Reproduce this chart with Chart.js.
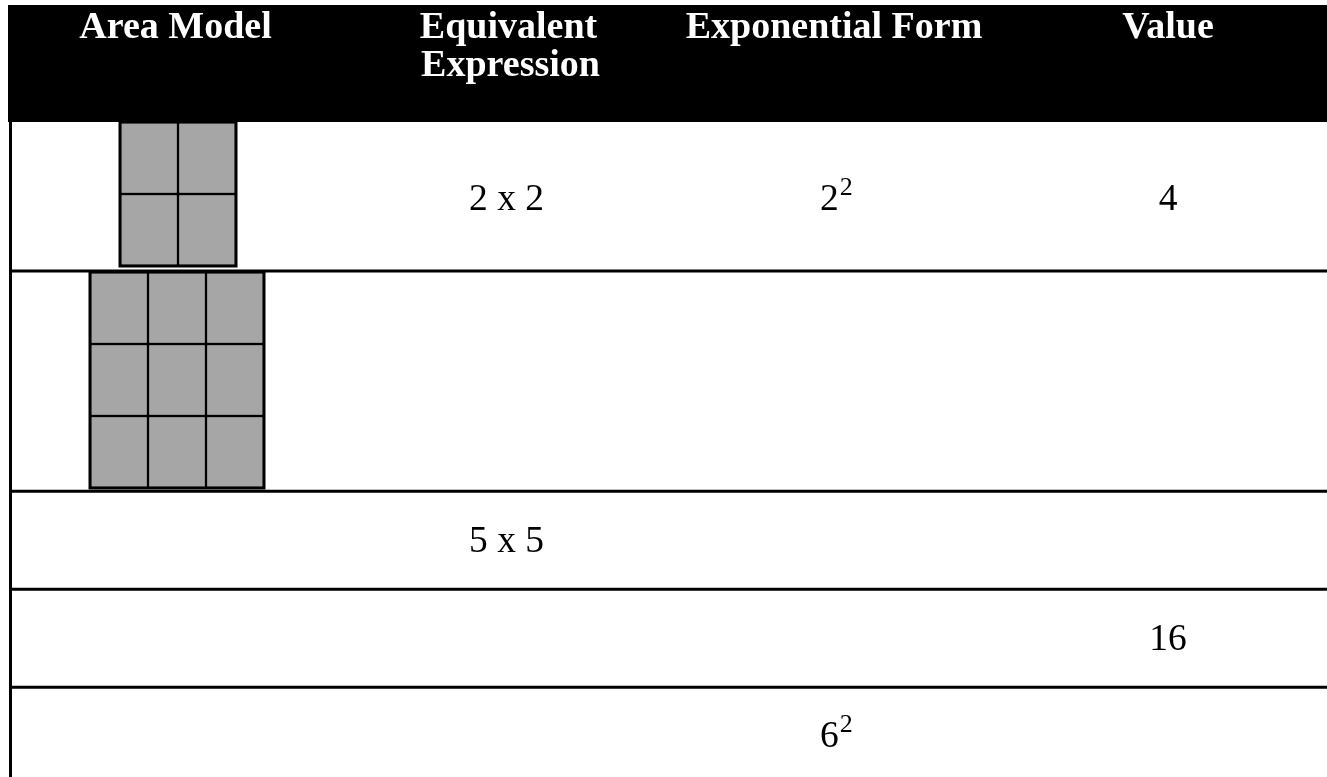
<!DOCTYPE html>
<html>
<head>
<meta charset="utf-8">
<script src="https://cdn.jsdelivr.net/npm/chart.js@4.4.1/dist/chart.umd.min.js"></script>
<style>
  html, body { margin: 0; padding: 0; background: #ffffff; overflow: hidden; }
  #wrap { width: 1327px; height: 777px; position: relative; }
</style>
</head>
<body>
<div id="wrap"><canvas id="c" width="1327" height="777"></canvas></div>
<script>
// ---- data ----
const headerLabels = ['Area Model', 'Equivalent\nExpression', 'Exponential Form', 'Value'];
const areaModelSides = [2, 3, 0, 0, 0];
const equivalentExpressions = ['2 x 2', '', '5 x 5', '', ''];
const exponentialBases = ['2', '', '', '', '6'];
const exponentialPowers = ['2', '', '', '', '2'];
const valueLabels = ['4', '', '', '16', ''];

// ---- layout (pixel-space units of the hidden linear scales) ----
const W = 1327, H = 777;
const layoutCfg = {
  headerLeft: 8, headerTop: 5, headerBottom: 122,
  tableLeft: 10.5, lineWidth: 3,
  rowLines: [271, 491.3, 589.3, 687.3],
  headerCenters: [175.5, 508.5, 834, 1168],
  headerBaselines: [38, 75.5],
  exprCenter: 506.5, expLeft: 820, valueCenter: 1168,
  rowBaselines: [209.5, 0, 552.3, 650, 746.7],
  cellW: 58, cellH: 72,
  modelOrigins: [[120, 122], [90, 272], null, null, null]
};
const style = {
  headerFont: 'bold 38px "Liberation Serif", "Times New Roman", serif',
  bodyFont: '37.5px "Liberation Serif", "Times New Roman", serif',
  supFont: '26px "Liberation Serif", "Times New Roman", serif',
  cellFill: '#a6a6a6', ink: '#000000', headerInk: '#ffffff'
};

// grey unit squares of each area model
const cellData = [];
areaModelSides.forEach((n, r) => {
  if (!n) return;
  const [ox, oy] = layoutCfg.modelOrigins[r];
  for (let i = 0; i < n; i++) {
    for (let j = 0; j < n; j++) {
      cellData.push({ x: ox + (i + 0.5) * layoutCfg.cellW, y: [oy + j * layoutCfg.cellH, oy + (j + 1) * layoutCfg.cellH] });
    }
  }
});

const tablePlugin = {
  id: 'tablePlugin',
  beforeDatasetsDraw(chart) {
    const ctx = chart.ctx, xs = chart.scales.x, ys = chart.scales.y;
    const px = v => xs.getPixelForValue(v), py = v => ys.getPixelForValue(v);
    ctx.save();
    // header band
    ctx.fillStyle = style.ink;
    ctx.fillRect(px(layoutCfg.headerLeft), py(layoutCfg.headerTop), px(W) - px(layoutCfg.headerLeft), py(layoutCfg.headerBottom) - py(layoutCfg.headerTop));
    // table rules
    ctx.strokeStyle = style.ink;
    ctx.lineWidth = layoutCfg.lineWidth;
    ctx.beginPath();
    ctx.moveTo(px(layoutCfg.tableLeft), py(layoutCfg.headerBottom));
    ctx.lineTo(px(layoutCfg.tableLeft), py(H));
    layoutCfg.rowLines.forEach(y => {
      ctx.moveTo(px(layoutCfg.tableLeft - 1.5), py(y));
      ctx.lineTo(px(W), py(y));
    });
    ctx.stroke();
    ctx.restore();
  },
  afterDatasetsDraw(chart) {
    const ctx = chart.ctx, xs = chart.scales.x, ys = chart.scales.y;
    const px = v => xs.getPixelForValue(v), py = v => ys.getPixelForValue(v);
    ctx.save();
    // outer frames of the area models
    ctx.strokeStyle = style.ink;
    ctx.lineWidth = layoutCfg.lineWidth;
    areaModelSides.forEach((n, r) => {
      if (!n) return;
      const [ox, oy] = layoutCfg.modelOrigins[r];
      ctx.strokeRect(px(ox), py(oy), px(ox + n * layoutCfg.cellW) - px(ox), py(oy + n * layoutCfg.cellH) - py(oy));
    });
    // header text
    ctx.fillStyle = style.headerInk;
    ctx.font = style.headerFont;
    ctx.textAlign = 'center';
    ctx.textBaseline = 'alphabetic';
    headerLabels.forEach((lab, i) => {
      lab.split('\n').forEach((line, k) => {
        ctx.fillText(line, px(layoutCfg.headerCenters[i] + (k === 1 ? 2 : 0)), py(layoutCfg.headerBaselines[k]));
      });
    });
    // body text
    ctx.fillStyle = style.ink;
    for (let r = 0; r < areaModelSides.length; r++) {
      const b = layoutCfg.rowBaselines[r];
      ctx.font = style.bodyFont;
      ctx.textAlign = 'center';
      if (equivalentExpressions[r]) ctx.fillText(equivalentExpressions[r], px(layoutCfg.exprCenter), py(b));
      if (valueLabels[r]) ctx.fillText(valueLabels[r], px(layoutCfg.valueCenter), py(b));
      if (exponentialBases[r]) {
        ctx.textAlign = 'left';
        ctx.font = style.bodyFont;
        const x0 = px(layoutCfg.expLeft);
        ctx.fillText(exponentialBases[r], x0, py(b));
        const w = ctx.measureText(exponentialBases[r]).width;
        ctx.font = style.supFont;
        ctx.fillText(exponentialPowers[r], x0 + w + 1, py(b - 14.5));
      }
    }
    ctx.restore();
  }
};

new Chart(document.getElementById('c'), {
  type: 'bar',
  data: {
    datasets: [{
      label: 'unit squares',
      data: cellData,
      backgroundColor: style.cellFill,
      borderColor: style.ink,
      borderWidth: 1.5,
      borderSkipped: false,
      barThickness: layoutCfg.cellW,
      grouped: true
    }]
  },
  options: {
    responsive: false,
    animation: false,
    events: [],
    layout: { padding: 0 },
    plugins: { legend: { display: false }, tooltip: { enabled: false }, title: { display: false } },
    scales: {
      x: { type: 'linear', min: 0, max: W, display: false, offset: false, grid: { display: false } },
      y: { type: 'linear', min: 0, max: H, reverse: true, display: false, grid: { display: false } }
    }
  },
  plugins: [tablePlugin]
});
</script>
</body>
</html>
